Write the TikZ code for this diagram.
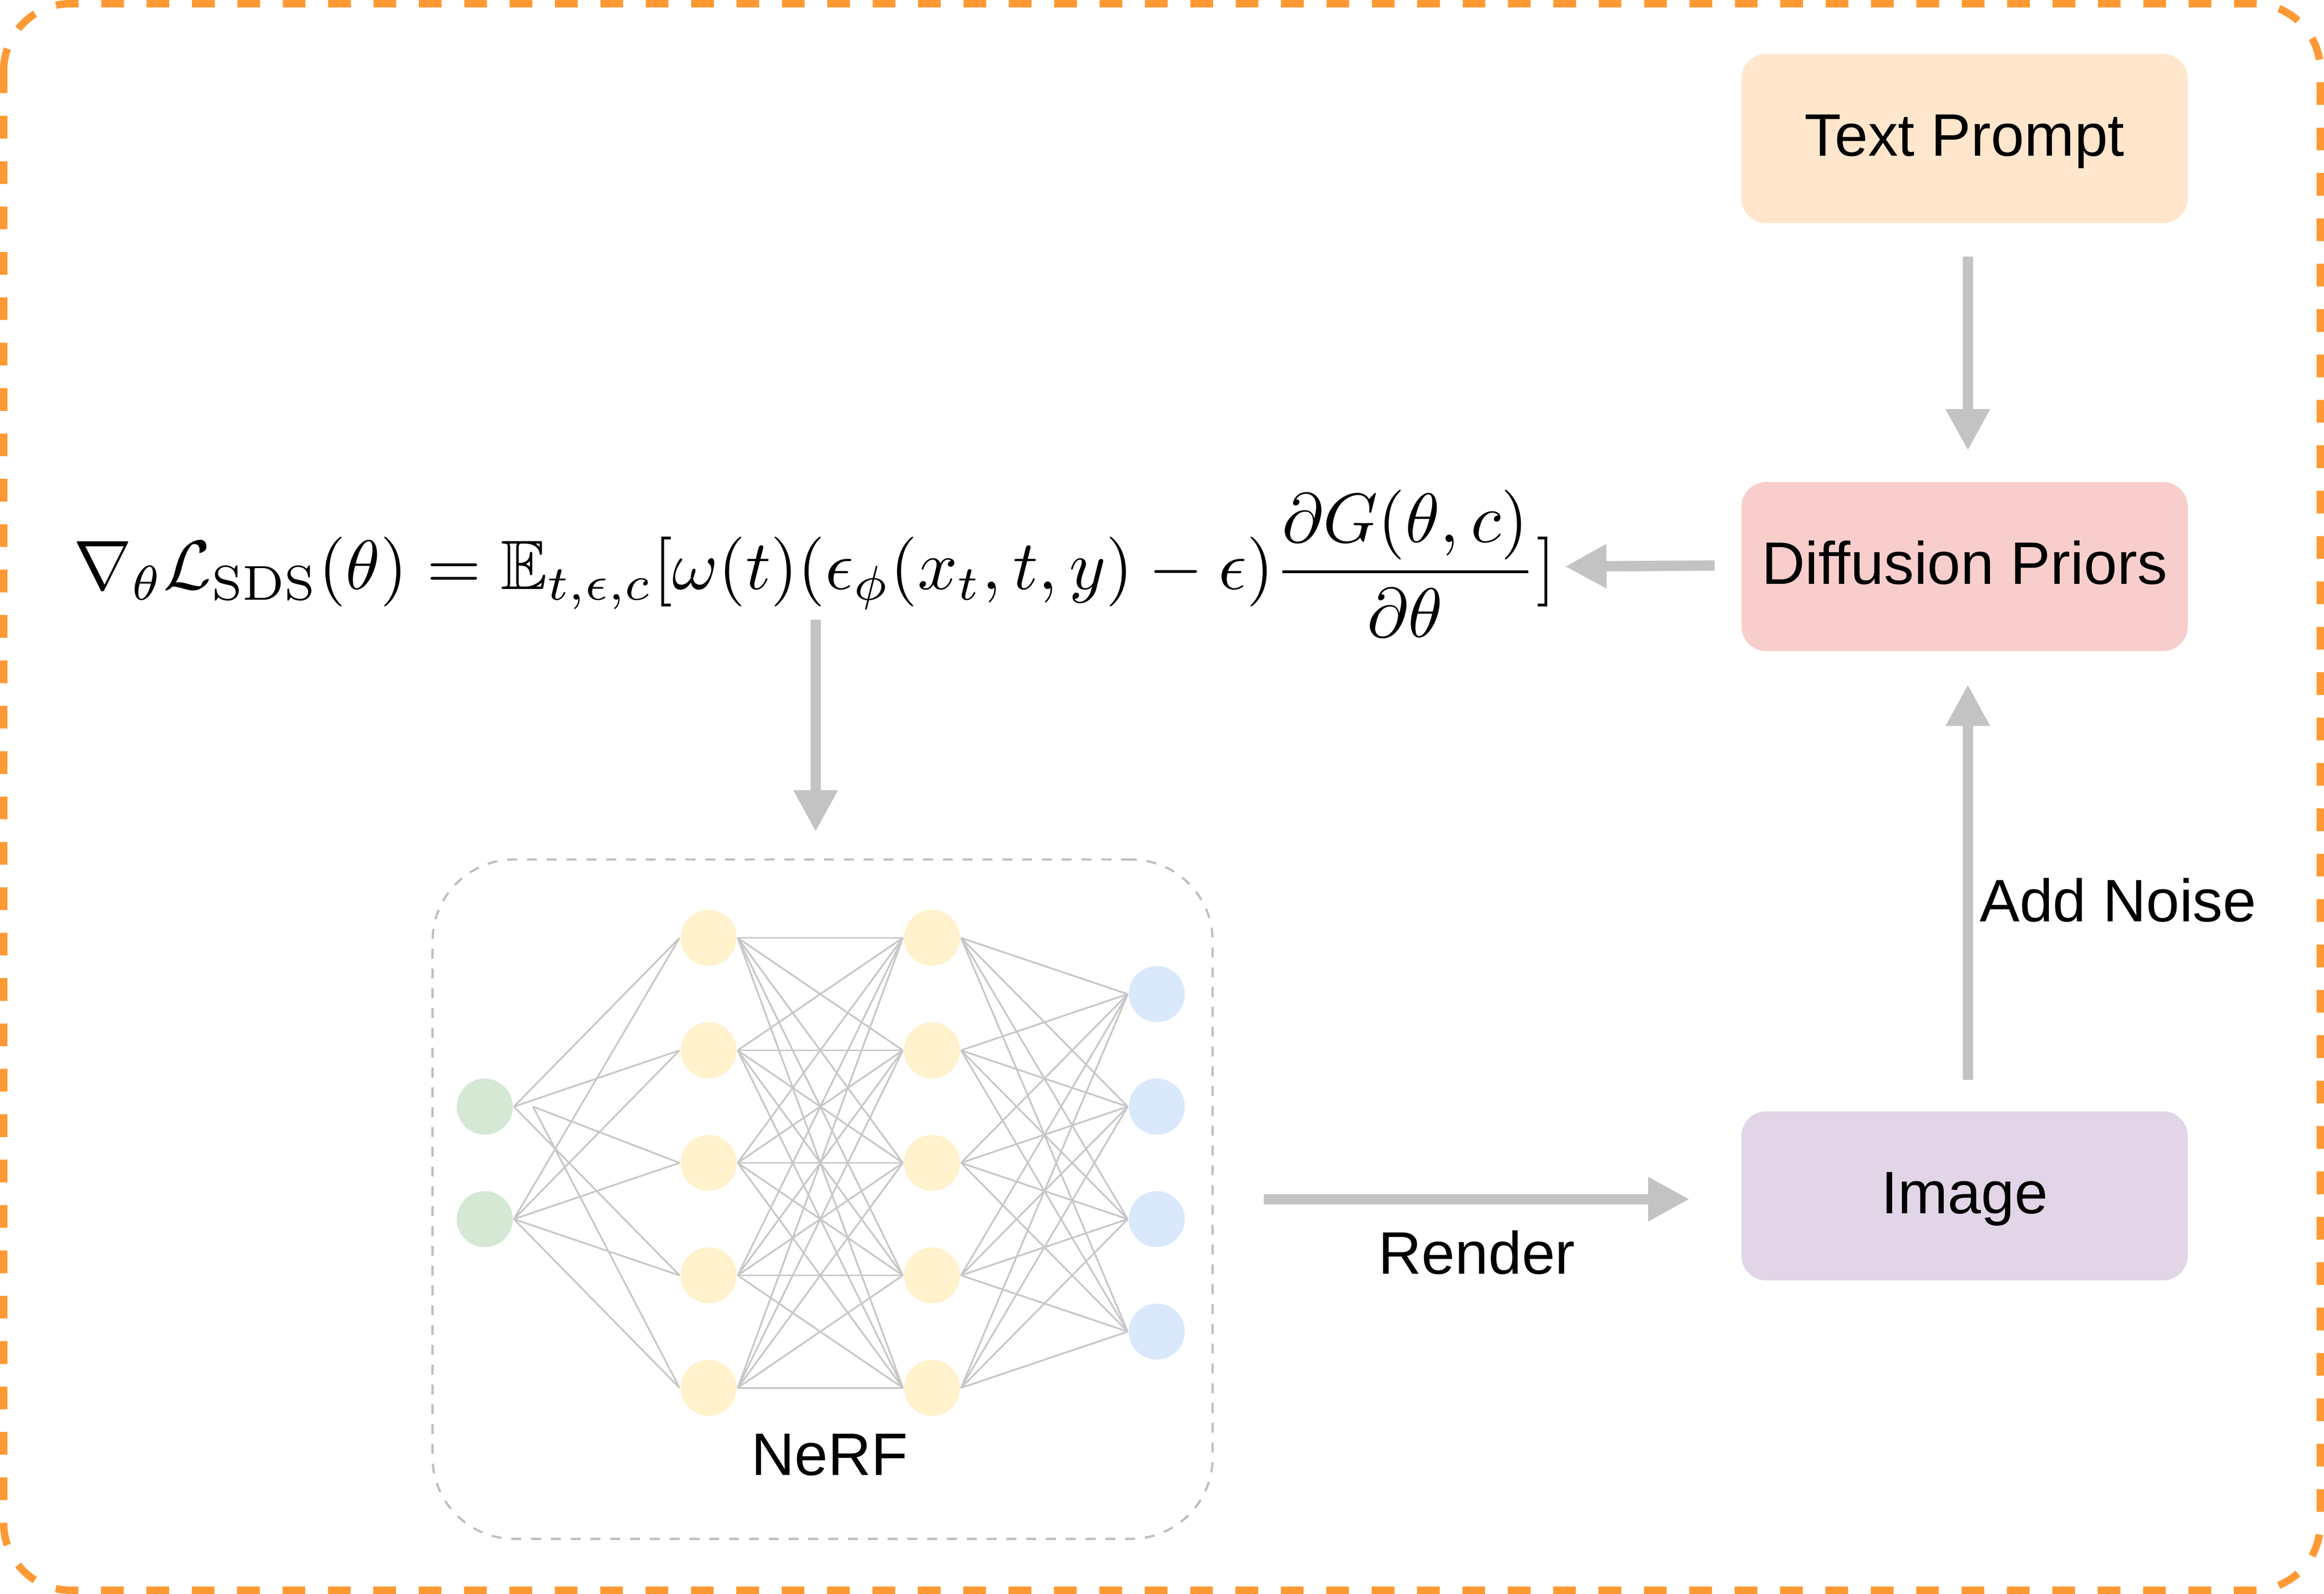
\documentclass[tikz,border=0pt]{standalone}
\usepackage{amsmath,amssymb}
\usepackage{fontspec}
\usetikzlibrary{arrows.meta,calc}
\newfontfamily\arialf{Liberation Sans}
\definecolor{borderorange}{HTML}{FF9933}
\definecolor{tpfill}{HTML}{FFE6CC}
\definecolor{dpfill}{HTML}{F8CECC}
\definecolor{imgfill}{HTML}{E1D5E7}
\definecolor{ingreen}{HTML}{D5E8D4}
\definecolor{hidyellow}{HTML}{FFF2CC}
\definecolor{outblue}{HTML}{DAE8FC}
\definecolor{arrgray}{HTML}{C3C3C3}
\definecolor{nngray}{HTML}{C8C8C8}
\definecolor{boxgray}{HTML}{BFBFBF}
\pgfdeclarelayer{bg}
\pgfsetlayers{bg,main}
\tikzset{
  lbl/.style={font=\arialf\fontsize{11.5}{13}\selectfont, inner sep=0pt},
  stagebox/.style={lbl, rounded corners=0.167cm, minimum width=3.01cm, minimum height=1.14cm,
    text height=0.236cm, text depth=0cm, draw=none},
  arr/.style={draw=arrgray, line width=0.07cm,
    -{Triangle[length=0.28cm,width=0.28cm]}},
  nn/.style={draw=nngray, line width=0.34pt},
  neuron/.style={circle, minimum size=0.378cm, inner sep=0pt, draw=none},
}
\begin{document}
\begin{tikzpicture}[x=0.01cm,y=-0.01cm]
\useasboundingbox (0,0) rectangle (1568,1075.3);
% outer frame
\draw[borderorange, line width=0.05cm, dash pattern=on 0.153cm off 0.153cm, rounded corners=0.45cm]
  (2.5,2.5) rectangle (1565.5,1072.8);

% right column boxes
\node[stagebox, fill=tpfill]  (tp)  at (1325.5,93.5)  {Text Prompt};
\node[stagebox, fill=dpfill]  (dp)  at (1325.5,382.2) {Diffusion Priors};
\node[stagebox, fill=imgfill] (img) at (1325.5,806.75) {Image};

% formula
\node[anchor=base west, inner sep=0pt] (formula) at (49,397.6)
  {\resizebox{9.995cm}{!}{$\nabla_\theta \mathcal{L}_{\mathrm{SDS}}(\theta) = \mathbb{E}_{t,\epsilon,c}[\omega(t)(\epsilon_\phi(x_t,t,y)-\epsilon)\dfrac{\partial G(\theta,c)}{\partial\theta}]$}};

% NeRF box
\node[draw=boxgray, line width=0.43pt, dash pattern=on 1.9pt off 1.9pt, rounded corners=0.55cm,
  minimum width=5.26cm, minimum height=4.58cm, inner sep=0pt] (nerf) at (555,809) {};
\node[lbl, anchor=base] (nerflbl) at (559.8,995.2) {NeRF};

% neurons
\node[neuron, fill=ingreen] (g1) at (327.1,746.55) {};
\node[neuron, fill=ingreen] (g2) at (327.1,822.45) {};
\foreach \k/\yy in {1/632.7,2/708.6,3/784.5,4/860.4,5/936.3}{
  \node[neuron, fill=hidyellow] (a\k) at (478.1,\yy) {};
  \node[neuron, fill=hidyellow] (b\k) at (628.8,\yy) {};
}
\foreach \k/\yy in {1/670.65,2/746.55,3/822.45,4/898.35}{
  \node[neuron, fill=outblue] (c\k) at (780.5,\yy) {};
}
\coordinate (gq) at ([xshift=0.129cm]g1.east);
\begin{pgfonlayer}{bg}
  \foreach \j in {1,2,4} \draw[nn] (g1.east) -- (a\j.west);
  \foreach \j in {3,5} \draw[nn] (gq) -- (a\j.west);
  \foreach \j in {1,...,5} \draw[nn] (g2.east) -- (a\j.west);
  \foreach \i in {1,...,5} \foreach \j in {1,...,5} \draw[nn] (a\i.east) -- (b\j.west);
  \foreach \i in {1,...,5} \foreach \j in {1,...,4} \draw[nn] (b\i.east) -- (c\j.west);
\end{pgfonlayer}

% labels
\node[lbl, anchor=base west] (addnoise) at (1335,621.8) {Add Noise};
\node[lbl, anchor=base] (render) at (996.4,859.5) {Render};

% connectors
\coordinate (ftip) at (1055.9,382.2);
\coordinate (fbot) at (550.3,418);
\draw[arr, shorten <=0.22cm, shorten >=0.204cm] ([xshift=0.022cm]tp.south) -- ([xshift=0.022cm]dp.north);
\draw[arr, shorten <=0.205cm, shorten >=0.218cm] ([xshift=0.022cm]img.north) -- ([xshift=0.022cm]dp.south);
\draw[arr, shorten <=0.174cm] ([yshift=0.008cm]dp.west) -- (ftip);
\draw[arr, shorten >=0.18cm] (fbot) -- (fbot |- nerf.north);
\draw[arr, shorten <=0.338cm, shorten >=0.342cm] (nerf.east) -- (nerf.east -| img.west);
\end{tikzpicture}
\end{document}
